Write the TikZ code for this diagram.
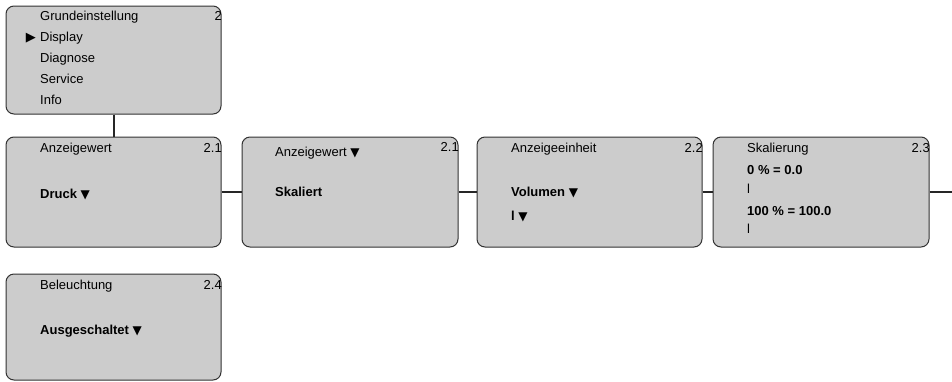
\documentclass[tikz,border=0pt]{standalone}
\usepackage{fontspec}
\setmainfont{Liberation Sans}
\newfontfamily\dejavu{DejaVu Sans}
\definecolor{boxfill}{RGB}{204,204,204}
\definecolor{boxline}{RGB}{50,50,50}
\newcommand{\downtri}{{\dejavu\fontsize{12}{13}\selectfont ▼}}
\newcommand{\righttri}{{\dejavu\fontsize{13}{15}\selectfont ▶}}
\begin{document}
\begin{tikzpicture}[x=1pt,y=-1pt,
  menubox/.style={draw=boxline,fill=boxfill,line width=1pt,rounded corners=8pt,inner sep=0pt},
  txt/.style={anchor=base west,inner sep=0pt,font=\fontsize{13}{15}\selectfont},
  btxt/.style={anchor=base west,inner sep=0pt,font=\fontsize{13}{15}\selectfont\bfseries},
  num/.style={anchor=base east,inner sep=0pt,font=\fontsize{13}{15}\selectfont},
  conn/.style={line width=1.5pt,draw=black!85}]
\useasboundingbox (0,0) rectangle (952,381);
% boxes
\node[menubox,minimum width=215pt,minimum height=108pt] (b1) at (113.5,60) {};
\node[menubox,minimum width=215pt,minimum height=110pt] (b2) at (113.5,192) {};
\node[menubox,minimum width=216pt,minimum height=110pt] (b3) at (350,192) {};
\node[menubox,minimum width=225pt,minimum height=110pt] (b4) at (589.5,192) {};
\node[menubox,minimum width=216pt,minimum height=110pt] (b5) at (821,192) {};
\node[menubox,minimum width=215pt,minimum height=106pt] (b6) at (113.5,327) {};
\coordinate (endr) at (952,192);
% connectors
\draw[conn,line width=2pt] (b1.south) -- (b2.north);
\draw[conn] (b2.east) -- (b3.west);
\draw[conn] (b3.east) -- (b4.west);
\draw[conn] (b4.east) -- (b5.west);
\draw[conn] (b5.east) -- (endr);
% box 1
\node[txt] (t11) at (40,20.5) {Grundeinstellung};
\node[anchor=base east,inner sep=0pt] (t1a) at (36,41) {\righttri};
\node[txt] (t12) at (40,41.5) {Display};
\node[txt] (t13) at (40,62.5) {Diagnose};
\node[txt] (t14) at (40,83.5) {Service};
\node[txt] (t15) at (40,104.5) {Info};
\node[num] (n1) at (222,20.5) {2};
% box 2
\node[txt] (t21) at (40,152) {Anzeigewert};
\node[btxt] (t22) at (40,198) {Druck \downtri};
\node[num] (n2) at (222,152) {2.1};
% box 3
\node[txt] (t31) at (275,156) {Anzeigewert \downtri};
\node[btxt] (t32) at (275,196) {Skaliert};
\node[num] (n3) at (459,151.5) {2.1};
% box 4
\node[txt] (t41) at (511,152) {Anzeigeeinheit};
\node[btxt] (t42) at (511,196) {Volumen \downtri};
\node[btxt] (t43) at (511,220) {l \downtri};
\node[num] (n4) at (703,152) {2.2};
% box 5
\node[txt] (t51) at (747,152) {Skalierung};
\node[btxt] (t52) at (747,174.5) {0 \% = 0.0};
\node[txt] (t53) at (747,193.5) {l};
\node[btxt] (t54) at (747,215) {100 \% = 100.0};
\node[txt] (t55) at (747,233.5) {l};
\node[num] (n5) at (930,152) {2.3};
% box 6
\node[txt] (t61) at (40,289) {Beleuchtung};
\node[btxt] (t62) at (40,334) {Ausgeschaltet \downtri};
\node[num] (n6) at (222,289) {2.4};
\end{tikzpicture}
\end{document}
